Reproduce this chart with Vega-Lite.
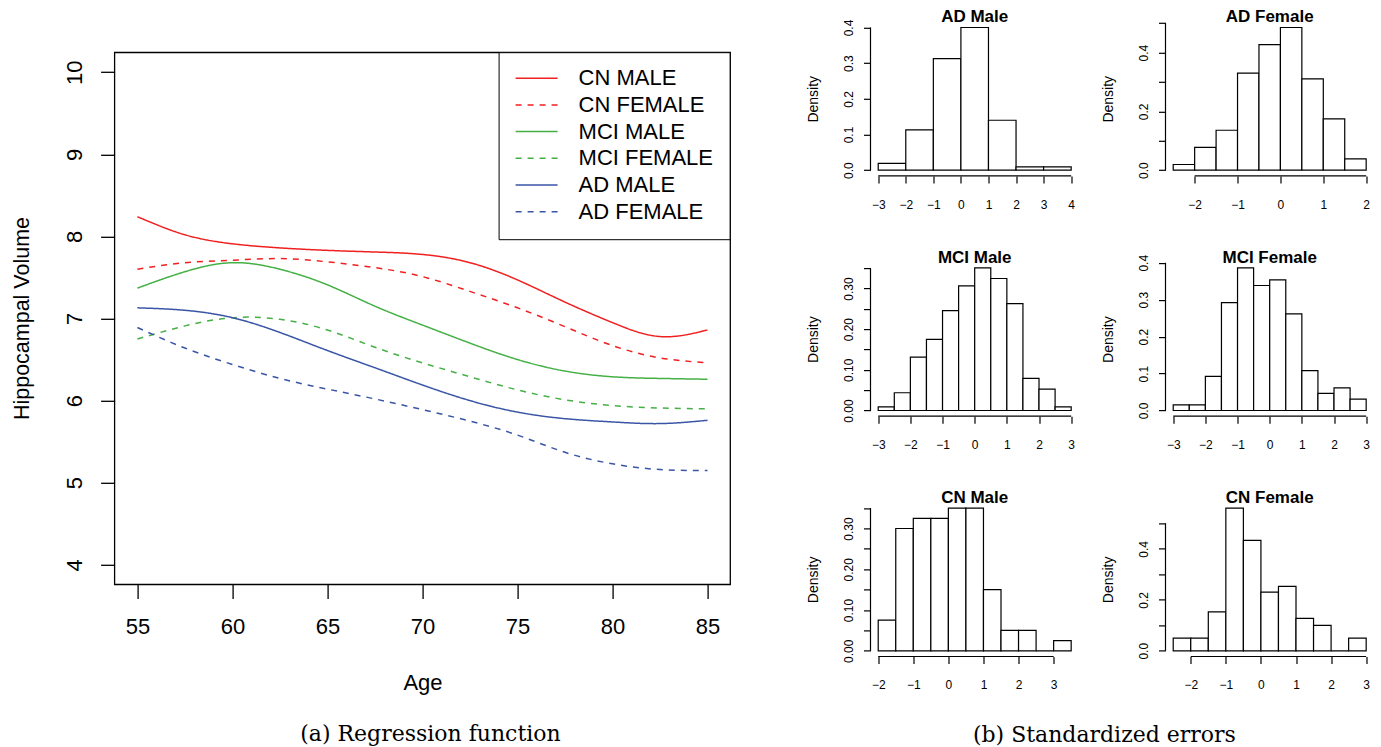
{
  "$schema": "https://vega.github.io/schema/vega-lite/v6.json",
  "padding": {"left": 11.6, "top": 7.8, "right": 0, "bottom": 0},
  "background": "white",
  "config": {
    "font": "Liberation Sans",
    "view": {"stroke": null},
    "axis": {"grid": false, "domain": false, "tickColor": "black", "labelColor": "black", "titleColor": "black", "labelFlush": false, "labelOverlap": false, "tickCount": 30, "titleFontWeight": "normal", "tickWidth": 1.2, "labelFont": "Liberation Sans", "titleFont": "Liberation Sans"},
    "title": {"color": "black"}
  },
  "datasets": {
    "lines": [
      {"age": 55, "vol": 8.24, "series": "CN MALE"}, {"age": 57.5, "vol": 8.02, "series": "CN MALE"}, {"age": 60, "vol": 7.91, "series": "CN MALE"}, {"age": 62.5, "vol": 7.86, "series": "CN MALE"}, {"age": 65, "vol": 7.83, "series": "CN MALE"}, {"age": 67.5, "vol": 7.81, "series": "CN MALE"}, {"age": 70, "vol": 7.78, "series": "CN MALE"}, {"age": 72.5, "vol": 7.68, "series": "CN MALE"}, {"age": 75, "vol": 7.47, "series": "CN MALE"}, {"age": 77.5, "vol": 7.2, "series": "CN MALE"}, {"age": 80, "vol": 6.95, "series": "CN MALE"}, {"age": 82.5, "vol": 6.78, "series": "CN MALE"}, {"age": 85, "vol": 6.86, "series": "CN MALE"},
      {"age": 55, "vol": 7.6, "series": "CN FEMALE"}, {"age": 57.5, "vol": 7.68, "series": "CN FEMALE"}, {"age": 60, "vol": 7.71, "series": "CN FEMALE"}, {"age": 62.5, "vol": 7.73, "series": "CN FEMALE"}, {"age": 65, "vol": 7.69, "series": "CN FEMALE"}, {"age": 67.5, "vol": 7.62, "series": "CN FEMALE"}, {"age": 70, "vol": 7.51, "series": "CN FEMALE"}, {"age": 72.5, "vol": 7.33, "series": "CN FEMALE"}, {"age": 75, "vol": 7.13, "series": "CN FEMALE"}, {"age": 77.5, "vol": 6.9, "series": "CN FEMALE"}, {"age": 80, "vol": 6.67, "series": "CN FEMALE"}, {"age": 82.5, "vol": 6.52, "series": "CN FEMALE"}, {"age": 85, "vol": 6.46, "series": "CN FEMALE"},
      {"age": 55, "vol": 7.37, "series": "MCI MALE"}, {"age": 57.5, "vol": 7.57, "series": "MCI MALE"}, {"age": 60, "vol": 7.68, "series": "MCI MALE"}, {"age": 62.5, "vol": 7.6, "series": "MCI MALE"}, {"age": 65, "vol": 7.41, "series": "MCI MALE"}, {"age": 67.5, "vol": 7.15, "series": "MCI MALE"}, {"age": 70, "vol": 6.92, "series": "MCI MALE"}, {"age": 72.5, "vol": 6.7, "series": "MCI MALE"}, {"age": 75, "vol": 6.5, "series": "MCI MALE"}, {"age": 77.5, "vol": 6.36, "series": "MCI MALE"}, {"age": 80, "vol": 6.29, "series": "MCI MALE"}, {"age": 82.5, "vol": 6.27, "series": "MCI MALE"}, {"age": 85, "vol": 6.26, "series": "MCI MALE"},
      {"age": 55, "vol": 6.75, "series": "MCI FEMALE"}, {"age": 57.5, "vol": 6.91, "series": "MCI FEMALE"}, {"age": 60, "vol": 7.01, "series": "MCI FEMALE"}, {"age": 62.5, "vol": 6.99, "series": "MCI FEMALE"}, {"age": 65, "vol": 6.86, "series": "MCI FEMALE"}, {"age": 67.5, "vol": 6.65, "series": "MCI FEMALE"}, {"age": 70, "vol": 6.46, "series": "MCI FEMALE"}, {"age": 72.5, "vol": 6.29, "series": "MCI FEMALE"}, {"age": 75, "vol": 6.13, "series": "MCI FEMALE"}, {"age": 77.5, "vol": 6.01, "series": "MCI FEMALE"}, {"age": 80, "vol": 5.94, "series": "MCI FEMALE"}, {"age": 82.5, "vol": 5.91, "series": "MCI FEMALE"}, {"age": 85, "vol": 5.9, "series": "MCI FEMALE"},
      {"age": 55, "vol": 7.13, "series": "AD MALE"}, {"age": 57.5, "vol": 7.1, "series": "AD MALE"}, {"age": 60, "vol": 7.01, "series": "AD MALE"}, {"age": 62.5, "vol": 6.83, "series": "AD MALE"}, {"age": 65, "vol": 6.61, "series": "AD MALE"}, {"age": 67.5, "vol": 6.4, "series": "AD MALE"}, {"age": 70, "vol": 6.19, "series": "AD MALE"}, {"age": 72.5, "vol": 6.0, "series": "AD MALE"}, {"age": 75, "vol": 5.86, "series": "AD MALE"}, {"age": 77.5, "vol": 5.78, "series": "AD MALE"}, {"age": 80, "vol": 5.74, "series": "AD MALE"}, {"age": 82.5, "vol": 5.72, "series": "AD MALE"}, {"age": 85, "vol": 5.76, "series": "AD MALE"},
      {"age": 55, "vol": 6.89, "series": "AD FEMALE"}, {"age": 57.5, "vol": 6.64, "series": "AD FEMALE"}, {"age": 60, "vol": 6.44, "series": "AD FEMALE"}, {"age": 62.5, "vol": 6.27, "series": "AD FEMALE"}, {"age": 65, "vol": 6.14, "series": "AD FEMALE"}, {"age": 67.5, "vol": 6.02, "series": "AD FEMALE"}, {"age": 70, "vol": 5.89, "series": "AD FEMALE"}, {"age": 72.5, "vol": 5.75, "series": "AD FEMALE"}, {"age": 75, "vol": 5.58, "series": "AD FEMALE"}, {"age": 77.5, "vol": 5.37, "series": "AD FEMALE"}, {"age": 80, "vol": 5.23, "series": "AD FEMALE"}, {"age": 82.5, "vol": 5.16, "series": "AD FEMALE"}, {"age": 85, "vol": 5.15, "series": "AD FEMALE"}
    ],
    "ad_male": [{"lo": -3, "hi": -2, "d": 0.019}, {"lo": -2, "hi": -1, "d": 0.113}, {"lo": -1, "hi": 0, "d": 0.313}, {"lo": 0, "hi": 1, "d": 0.4}, {"lo": 1, "hi": 2, "d": 0.14}, {"lo": 2, "hi": 3, "d": 0.0095}, {"lo": 3, "hi": 4, "d": 0.0095}],
    "ad_female": [{"lo": -2.5, "hi": -2, "d": 0.0194}, {"lo": -2, "hi": -1.5, "d": 0.0777}, {"lo": -1.5, "hi": -1, "d": 0.1359}, {"lo": -1, "hi": -0.5, "d": 0.3301}, {"lo": -0.5, "hi": 0, "d": 0.4272}, {"lo": 0, "hi": 0.5, "d": 0.4854}, {"lo": 0.5, "hi": 1, "d": 0.3107}, {"lo": 1, "hi": 1.5, "d": 0.1748}, {"lo": 1.5, "hi": 2, "d": 0.0388}],
    "mci_male": [{"lo": -3, "hi": -2.5, "d": 0.009}, {"lo": -2.5, "hi": -2, "d": 0.0436}, {"lo": -2, "hi": -1.5, "d": 0.1315}, {"lo": -1.5, "hi": -1, "d": 0.175}, {"lo": -1, "hi": -0.5, "d": 0.2458}, {"lo": -0.5, "hi": 0, "d": 0.3066}, {"lo": 0, "hi": 0.5, "d": 0.351}, {"lo": 0.5, "hi": 1, "d": 0.3247}, {"lo": 1, "hi": 1.5, "d": 0.263}, {"lo": 1.5, "hi": 2, "d": 0.0789}, {"lo": 2, "hi": 2.5, "d": 0.0526}, {"lo": 2.5, "hi": 3, "d": 0.009}],
    "mci_female": [{"lo": -3, "hi": -2.5, "d": 0.0154}, {"lo": -2.5, "hi": -2, "d": 0.0154}, {"lo": -2, "hi": -1.5, "d": 0.0923}, {"lo": -1.5, "hi": -1, "d": 0.2923}, {"lo": -1, "hi": -0.5, "d": 0.3864}, {"lo": -0.5, "hi": 0, "d": 0.3385}, {"lo": 0, "hi": 0.5, "d": 0.3538}, {"lo": 0.5, "hi": 1, "d": 0.2615}, {"lo": 1, "hi": 1.5, "d": 0.1077}, {"lo": 1.5, "hi": 2, "d": 0.0462}, {"lo": 2, "hi": 2.5, "d": 0.0615}, {"lo": 2.5, "hi": 3, "d": 0.0308}],
    "cn_male": [{"lo": -2, "hi": -1.5, "d": 0.075}, {"lo": -1.5, "hi": -1, "d": 0.3}, {"lo": -1, "hi": -0.5, "d": 0.325}, {"lo": -0.5, "hi": 0, "d": 0.325}, {"lo": 0, "hi": 0.5, "d": 0.35}, {"lo": 0.5, "hi": 1, "d": 0.35}, {"lo": 1, "hi": 1.5, "d": 0.15}, {"lo": 1.5, "hi": 2, "d": 0.05}, {"lo": 2, "hi": 2.5, "d": 0.05}, {"lo": 2.5, "hi": 3, "d": 0}, {"lo": 3, "hi": 3.5, "d": 0.025}],
    "cn_female": [{"lo": -2.5, "hi": -2, "d": 0.05}, {"lo": -2, "hi": -1.5, "d": 0.05}, {"lo": -1.5, "hi": -1, "d": 0.153}, {"lo": -1, "hi": -0.5, "d": 0.56}, {"lo": -0.5, "hi": 0, "d": 0.433}, {"lo": 0, "hi": 0.5, "d": 0.23}, {"lo": 0.5, "hi": 1, "d": 0.253}, {"lo": 1, "hi": 1.5, "d": 0.127}, {"lo": 1.5, "hi": 2, "d": 0.1}, {"lo": 2, "hi": 2.5, "d": 0}, {"lo": 2.5, "hi": 3, "d": 0.05}]
  },
  "bounds": "flush",
  "spacing": 139.9,
  "hconcat": [
    {
      "width": 615.7,
      "height": 562.7,
      "title": {"text": "(a) Regression function", "orient": "bottom", "anchor": "middle", "frame": "group", "font": "DejaVu Serif", "fontSize": 22, "fontWeight": "normal", "baseline": "alphabetic", "offset": 47.4, "dx": 8, "color": "black"},
      "layer": [
        {
          "data": {"name": "lines"},
          "mark": {"type": "line", "strokeWidth": 1.5, "interpolate": "natural"},
          "encoding": {
            "x": {"field": "age", "type": "quantitative", "scale": {"domain": [53.8, 86.2], "nice": false, "zero": false},
              "axis": {"title": "Age", "values": [55, 60, 65, 70, 75, 80, 85], "format": "d", "labelOverlap": false, "tickCount": 30, "tickSize": 14, "tickWidth": 1.3, "labelFontSize": 22, "labelBaseline": "alphabetic", "labelPadding": 35.3, "titleFontSize": 22, "titleX": 307.85, "titleY": 105, "titleBaseline": "alphabetic", "titleAlign": "center"}},
            "y": {"field": "vol", "type": "quantitative", "scale": {"domain": [3.76, 10.614], "nice": false, "zero": false},
              "axis": {"title": "Hippocampal Volume", "values": [4, 5, 6, 7, 8, 9, 10], "format": "d", "labelOverlap": false, "tickCount": 30, "tickSize": 14, "tickWidth": 1.3, "labelFontSize": 22, "labelAngle": 270, "labelAlign": "center", "labelBaseline": "alphabetic", "labelPadding": 19, "titleFontSize": 21.5, "titleAngle": 270, "titleAlign": "center", "titleBaseline": "alphabetic", "titleX": -86, "titleY": 296.2}},
            "color": {"field": "series", "type": "nominal",
              "scale": {"domain": ["CN MALE", "CN FEMALE", "MCI MALE", "MCI FEMALE", "AD MALE", "AD FEMALE"], "range": ["#f02020", "#f02020", "#45b045", "#45b045", "#3a55a5", "#3a55a5"]},
              "legend": {"title": null, "orient": "none", "legendX": 384, "legendY": 30.4, "padding": 16, "strokeColor": "black", "fillColor": "white", "symbolType": "stroke", "symbolSize": 1764, "symbolStrokeWidth": 1.5, "clipHeight": 20, "rowPadding": 4.7, "labelOffset": 20, "labelFont": "Liberation Sans", "labelFontSize": 22, "labelColor": "black", "labelLimit": 400}},
            "strokeDash": {"field": "series", "type": "nominal",
              "scale": {"domain": ["CN MALE", "CN FEMALE", "MCI MALE", "MCI FEMALE", "AD MALE", "AD FEMALE"], "range": [[1, 0], [6, 6], [1, 0], [6, 6], [1, 0], [6, 6]]},
              "legend": {"title": null, "orient": "none", "legendX": 384, "legendY": 30.4, "padding": 16, "strokeColor": "black", "fillColor": "white", "symbolType": "stroke", "symbolSize": 1764, "symbolStrokeWidth": 1.5, "clipHeight": 20, "rowPadding": 4.7, "labelOffset": 20, "labelFont": "Liberation Sans", "labelFontSize": 22, "labelColor": "black", "labelLimit": 400}}
          }
        },
        {
          "data": {"values": [{}]},
          "mark": {"type": "rect", "fillOpacity": 0, "stroke": "black", "strokeWidth": 1.3},
          "encoding": {"x": {"datum": 53.8}, "x2": {"datum": 86.2}, "y": {"datum": 3.76}, "y2": {"datum": 10.24}}
        }
      ]
    },
    {
      "title": {"text": "(b) Standardized errors", "orient": "bottom", "anchor": "middle", "font": "DejaVu Serif", "fontSize": 22, "fontWeight": "normal", "baseline": "alphabetic", "offset": 51, "dx": 14, "color": "black"},
      "columns": 2,
      "bounds": "flush",
      "spacing": {"row": 85.3, "column": 86},
      "concat": [
        {
          "width": 208.4, "height": 154.1,
          "title": {"text": "AD Male", "font": "Liberation Sans", "fontSize": 17, "fontWeight": "bold", "anchor": "middle", "frame": "group", "baseline": "alphabetic", "offset": -20, "color": "black"},
          "layer": [
            {"data": {"name": "ad_male"}, "mark": {"type": "rect", "fill": "white", "stroke": "black", "strokeWidth": 1.2},
             "encoding": {
               "x": {"field": "lo", "type": "quantitative", "scale": {"domain": [-3.28, 4.28], "nice": false, "zero": false},
                 "axis": {"title": null, "values": [-3, -2, -1, 0, 1, 2, 3, 4], "format": "d", "tickCount": 30, "labelOverlap": false, "tickSize": 7, "labelFontSize": 12, "labelBaseline": "alphabetic", "labelPadding": 25.5}},
               "x2": {"field": "hi"},
               "y": {"field": "d", "type": "quantitative", "scale": {"domain": [-0.016, 0.416], "nice": false, "zero": false},
                 "axis": {"title": "Density", "values": [0, 0.1, 0.2, 0.3, 0.4], "format": ".1f", "tickCount": 30, "labelOverlap": false, "tickSize": 7, "labelFontSize": 12, "labelAngle": 270, "labelAlign": "center", "labelBaseline": "alphabetic", "labelPadding": 11.3, "titleFontSize": 14, "titleAngle": 270, "titleAlign": "center", "titleBaseline": "alphabetic", "titleX": -52.6, "titleY": 77}},
               "y2": {"datum": 0}
             }},
            {"data": {"values": [{}]}, "mark": {"type": "rule", "stroke": "black", "strokeWidth": 1.2}, "encoding": {"x": {"datum": -3}, "x2": {"datum": 4}, "y": {"datum": -0.016}}},
            {"data": {"values": [{}]}, "mark": {"type": "rule", "stroke": "black", "strokeWidth": 1.2}, "encoding": {"x": {"datum": -3.28}, "y": {"datum": 0}, "y2": {"datum": 0.4}}}
          ]
        },
        {
          "width": 208.4, "height": 154.1,
          "title": {"text": "AD Female", "font": "Liberation Sans", "fontSize": 17, "fontWeight": "bold", "anchor": "middle", "frame": "group", "baseline": "alphabetic", "offset": -17.5, "color": "black"},
          "layer": [
            {"data": {"name": "ad_female"}, "mark": {"type": "rect", "fill": "white", "stroke": "black", "strokeWidth": 1.2},
             "encoding": {
               "x": {"field": "lo", "type": "quantitative", "scale": {"domain": [-2.68, 2.18], "nice": false, "zero": false},
                 "axis": {"title": null, "values": [-2, -1, 0, 1, 2], "format": "d", "tickCount": 30, "labelOverlap": false, "tickSize": 7, "labelFontSize": 12, "labelBaseline": "alphabetic", "labelPadding": 25.5}},
               "x2": {"field": "hi"},
               "y": {"field": "d", "type": "quantitative", "scale": {"domain": [-0.019416, 0.504816], "nice": false, "zero": false},
                 "axis": {"title": "Density", "values": [0, 0.1, 0.2, 0.3, 0.4, 0.5], "format": ".1f", "tickCount": 30, "labelOverlap": false, "labelExpr": "round(datum.value*10) % 2 == 0 ? datum.label : ''", "tickSize": 7, "labelFontSize": 12, "labelAngle": 270, "labelAlign": "center", "labelBaseline": "alphabetic", "labelPadding": 11.3, "titleFontSize": 14, "titleAngle": 270, "titleAlign": "center", "titleBaseline": "alphabetic", "titleX": -52.6, "titleY": 77}},
               "y2": {"datum": 0}
             }},
            {"data": {"values": [{}]}, "mark": {"type": "rule", "stroke": "black", "strokeWidth": 1.2}, "encoding": {"x": {"datum": -2}, "x2": {"datum": 2}, "y": {"datum": -0.019416}}},
            {"data": {"values": [{}]}, "mark": {"type": "rule", "stroke": "black", "strokeWidth": 1.2}, "encoding": {"x": {"datum": -2.68}, "y": {"datum": 0}, "y2": {"datum": 0.5}}}
          ]
        },
        {
          "width": 208.4, "height": 154.1,
          "title": {"text": "MCI Male", "font": "Liberation Sans", "fontSize": 17, "fontWeight": "bold", "anchor": "middle", "frame": "group", "baseline": "alphabetic", "offset": -17.5, "color": "black"},
          "layer": [
            {"data": {"name": "mci_male"}, "mark": {"type": "rect", "fill": "white", "stroke": "black", "strokeWidth": 1.2},
             "encoding": {
               "x": {"field": "lo", "type": "quantitative", "scale": {"domain": [-3.24, 3.24], "nice": false, "zero": false},
                 "axis": {"title": null, "values": [-3, -2, -1, 0, 1, 2, 3], "format": "d", "tickCount": 30, "labelOverlap": false, "tickSize": 7, "labelFontSize": 12, "labelBaseline": "alphabetic", "labelPadding": 25.5}},
               "x2": {"field": "hi"},
               "y": {"field": "d", "type": "quantitative", "scale": {"domain": [-0.01404, 0.36504], "nice": false, "zero": false},
                 "axis": {"title": "Density", "values": [0, 0.05, 0.1, 0.15, 0.2, 0.25, 0.3, 0.35], "format": ".2f", "tickCount": 30, "labelOverlap": false, "labelExpr": "round(datum.value*20) % 2 == 0 ? datum.label : ''", "tickSize": 7, "labelFontSize": 12, "labelAngle": 270, "labelAlign": "center", "labelBaseline": "alphabetic", "labelPadding": 11.3, "titleFontSize": 14, "titleAngle": 270, "titleAlign": "center", "titleBaseline": "alphabetic", "titleX": -52.6, "titleY": 77}},
               "y2": {"datum": 0}
             }},
            {"data": {"values": [{}]}, "mark": {"type": "rule", "stroke": "black", "strokeWidth": 1.2}, "encoding": {"x": {"datum": -3}, "x2": {"datum": 3}, "y": {"datum": -0.01404}}},
            {"data": {"values": [{}]}, "mark": {"type": "rule", "stroke": "black", "strokeWidth": 1.2}, "encoding": {"x": {"datum": -3.24}, "y": {"datum": 0}, "y2": {"datum": 0.35}}}
          ]
        },
        {
          "width": 208.4, "height": 154.1,
          "title": {"text": "MCI Female", "font": "Liberation Sans", "fontSize": 17, "fontWeight": "bold", "anchor": "middle", "frame": "group", "baseline": "alphabetic", "offset": -25.1, "color": "black"},
          "layer": [
            {"data": {"name": "mci_female"}, "mark": {"type": "rect", "fill": "white", "stroke": "black", "strokeWidth": 1.2},
             "encoding": {
               "x": {"field": "lo", "type": "quantitative", "scale": {"domain": [-3.24, 3.24], "nice": false, "zero": false},
                 "axis": {"title": null, "values": [-3, -2, -1, 0, 1, 2, 3], "format": "d", "tickCount": 30, "labelOverlap": false, "tickSize": 7, "labelFontSize": 12, "labelBaseline": "alphabetic", "labelPadding": 25.5}},
               "x2": {"field": "hi"},
               "y": {"field": "d", "type": "quantitative", "scale": {"domain": [-0.015456, 0.401856], "nice": false, "zero": false},
                 "axis": {"title": "Density", "values": [0, 0.1, 0.2, 0.3, 0.4], "format": ".1f", "tickCount": 30, "labelOverlap": false, "tickSize": 7, "labelFontSize": 12, "labelAngle": 270, "labelAlign": "center", "labelBaseline": "alphabetic", "labelPadding": 11.3, "titleFontSize": 14, "titleAngle": 270, "titleAlign": "center", "titleBaseline": "alphabetic", "titleX": -52.6, "titleY": 77}},
               "y2": {"datum": 0}
             }},
            {"data": {"values": [{}]}, "mark": {"type": "rule", "stroke": "black", "strokeWidth": 1.2}, "encoding": {"x": {"datum": -3}, "x2": {"datum": 3}, "y": {"datum": -0.015456}}},
            {"data": {"values": [{}]}, "mark": {"type": "rule", "stroke": "black", "strokeWidth": 1.2}, "encoding": {"x": {"datum": -3.24}, "y": {"datum": 0}, "y2": {"datum": 0.4}}}
          ]
        },
        {
          "width": 208.4, "height": 154.1,
          "title": {"text": "CN Male", "font": "Liberation Sans", "fontSize": 17, "fontWeight": "bold", "anchor": "middle", "frame": "group", "baseline": "alphabetic", "offset": -17.5, "color": "black"},
          "layer": [
            {"data": {"name": "cn_male"}, "mark": {"type": "rect", "fill": "white", "stroke": "black", "strokeWidth": 1.2},
             "encoding": {
               "x": {"field": "lo", "type": "quantitative", "scale": {"domain": [-2.22, 3.72], "nice": false, "zero": false},
                 "axis": {"title": null, "values": [-2, -1, 0, 1, 2, 3], "format": "d", "tickCount": 30, "labelOverlap": false, "tickSize": 7, "labelFontSize": 12, "labelBaseline": "alphabetic", "labelPadding": 25.5}},
               "x2": {"field": "hi"},
               "y": {"field": "d", "type": "quantitative", "scale": {"domain": [-0.014, 0.364], "nice": false, "zero": false},
                 "axis": {"title": "Density", "values": [0, 0.05, 0.1, 0.15, 0.2, 0.25, 0.3, 0.35], "format": ".2f", "tickCount": 30, "labelOverlap": false, "labelExpr": "round(datum.value*20) % 2 == 0 ? datum.label : ''", "tickSize": 7, "labelFontSize": 12, "labelAngle": 270, "labelAlign": "center", "labelBaseline": "alphabetic", "labelPadding": 11.3, "titleFontSize": 14, "titleAngle": 270, "titleAlign": "center", "titleBaseline": "alphabetic", "titleX": -52.6, "titleY": 77}},
               "y2": {"datum": 0}
             }},
            {"data": {"values": [{}]}, "mark": {"type": "rule", "stroke": "black", "strokeWidth": 1.2}, "encoding": {"x": {"datum": -2}, "x2": {"datum": 3}, "y": {"datum": -0.014}}},
            {"data": {"values": [{}]}, "mark": {"type": "rule", "stroke": "black", "strokeWidth": 1.2}, "encoding": {"x": {"datum": -2.22}, "y": {"datum": 0}, "y2": {"datum": 0.35}}}
          ]
        },
        {
          "width": 208.4, "height": 154.1,
          "title": {"text": "CN Female", "font": "Liberation Sans", "fontSize": 17, "fontWeight": "bold", "anchor": "middle", "frame": "group", "baseline": "alphabetic", "offset": -17.5, "color": "black"},
          "layer": [
            {"data": {"name": "cn_female"}, "mark": {"type": "rect", "fill": "white", "stroke": "black", "strokeWidth": 1.2},
             "encoding": {
               "x": {"field": "lo", "type": "quantitative", "scale": {"domain": [-2.72, 3.22], "nice": false, "zero": false},
                 "axis": {"title": null, "values": [-2, -1, 0, 1, 2, 3], "format": "d", "tickCount": 30, "labelOverlap": false, "tickSize": 7, "labelFontSize": 12, "labelBaseline": "alphabetic", "labelPadding": 25.5}},
               "x2": {"field": "hi"},
               "y": {"field": "d", "type": "quantitative", "scale": {"domain": [-0.0224, 0.5824], "nice": false, "zero": false},
                 "axis": {"title": "Density", "values": [0, 0.1, 0.2, 0.3, 0.4, 0.5], "format": ".1f", "tickCount": 30, "labelOverlap": false, "labelExpr": "round(datum.value*10) % 2 == 0 ? datum.label : ''", "tickSize": 7, "labelFontSize": 12, "labelAngle": 270, "labelAlign": "center", "labelBaseline": "alphabetic", "labelPadding": 11.3, "titleFontSize": 14, "titleAngle": 270, "titleAlign": "center", "titleBaseline": "alphabetic", "titleX": -52.6, "titleY": 77}},
               "y2": {"datum": 0}
             }},
            {"data": {"values": [{}]}, "mark": {"type": "rule", "stroke": "black", "strokeWidth": 1.2}, "encoding": {"x": {"datum": -2}, "x2": {"datum": 3}, "y": {"datum": -0.0224}}},
            {"data": {"values": [{}]}, "mark": {"type": "rule", "stroke": "black", "strokeWidth": 1.2}, "encoding": {"x": {"datum": -2.72}, "y": {"datum": 0}, "y2": {"datum": 0.5}}}
          ]
        }
      ]
    }
  ]
}
